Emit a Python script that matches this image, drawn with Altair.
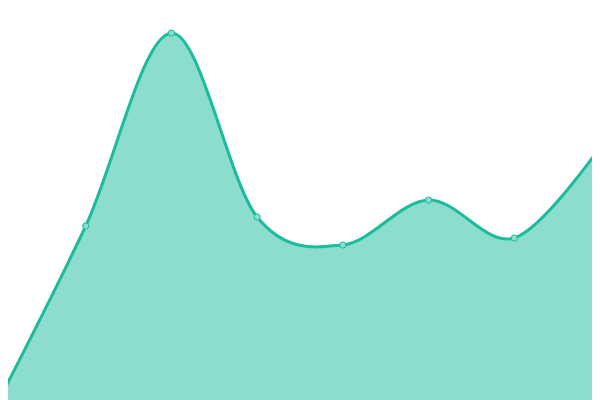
import altair as alt
import pandas as pd

# category index and values (as height above baseline)
idx = [0, 1, 2, 3, 4, 5, 6, 7]
values = [2, 174, 367, 183, 155, 200, 162, 253]

df = pd.DataFrame({"i": idx, "v": values})

W, H = 584, 392
step = 600 / 7
x0 = 8 / step
x = alt.X("i:Q", axis=None, scale=alt.Scale(domain=[x0, x0 + W / step], nice=False, zero=False))
y = alt.Y("v:Q", axis=None, scale=alt.Scale(domain=[392 - H, 392], nice=False, zero=False))

area = alt.Chart(df).mark_area(
    interpolate="cardinal", color="#1abc9c", fillOpacity=0.5, clip=True,
    line={"color": "#1abc9c", "strokeWidth": 3},
).encode(x=x, y=y)

pts = alt.Chart(df).mark_point(
    filled=True, shape="circle", size=38, fill="#8ae0cf", stroke="#1abc9c",
    strokeWidth=1, opacity=1, clip=True,
).encode(x=x, y=y)

chart = (area + pts).properties(
    width=W, height=H, padding=0, autosize=alt.AutoSizeParams(type="none")
).configure_view(stroke=None)

chart.save("out.html", embed_options={"renderer": "svg", "actions": False})
